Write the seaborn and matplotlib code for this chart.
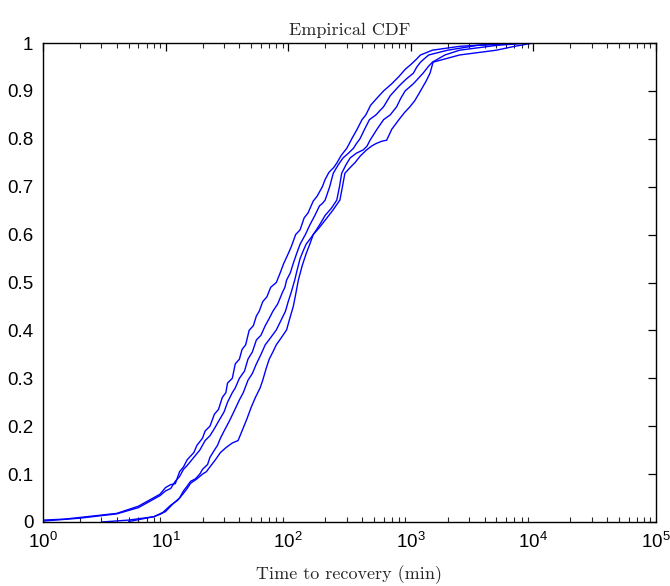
import matplotlib
matplotlib.use("Agg")
import matplotlib.pyplot as plt
import seaborn as sns
import pandas as pd
import numpy as np
from matplotlib.ticker import LogLocator, FixedLocator, FixedFormatter, NullLocator

# ---- data (time in minutes, cumulative fraction) ----
curve_a_x = [1, 1.5, 4, 6, 9, 10, 11, 12, 13, 14, 15, 17, 18, 20, 21, 23, 25, 27, 29, 31,
             32, 35, 37, 40, 42, 45, 48, 52, 55, 58, 62, 67, 72, 80, 86, 92, 100, 106, 115,
             125, 135, 145, 160, 172, 190, 200, 215, 235, 250, 270, 300, 315, 330, 365, 400,
             430, 470, 530, 600, 700, 800, 900, 1000, 1100, 1200, 1500, 2500, 5000, 8000]
curve_a_y = [0.004, 0.006, 0.018, 0.033, 0.058, 0.072, 0.078, 0.08, 0.105, 0.115, 0.13,
             0.145, 0.16, 0.175, 0.19, 0.20, 0.225, 0.235, 0.26, 0.27, 0.29, 0.30, 0.33,
             0.34, 0.36, 0.37, 0.40, 0.41, 0.43, 0.44, 0.46, 0.47, 0.49, 0.50, 0.52, 0.54,
             0.56, 0.575, 0.60, 0.61, 0.635, 0.645, 0.67, 0.68, 0.70, 0.715, 0.73, 0.74,
             0.75, 0.765, 0.78, 0.79, 0.80, 0.82, 0.84, 0.85, 0.87, 0.885, 0.90, 0.915,
             0.93, 0.945, 0.955, 0.965, 0.975, 0.985, 0.993, 0.998, 1.0]

curve_b_x = [1, 2, 4, 6, 9, 10, 11, 12, 13, 14, 15, 17, 19, 21, 23, 25, 27, 30, 32, 35, 37,
             40, 44, 47, 51, 55, 60, 65, 70, 75, 82, 90, 94, 97, 104, 110, 117, 125, 138,
             150, 165, 180, 190, 200, 218, 233, 255, 280, 310, 340, 360, 385, 420, 460, 520,
             600, 680, 800, 920, 1050, 1120, 1200, 1300, 1400, 2000, 3500, 9000]
curve_b_y = [0.002, 0.008, 0.017, 0.03, 0.055, 0.065, 0.07, 0.085, 0.095, 0.11, 0.118, 0.135,
             0.15, 0.17, 0.18, 0.195, 0.21, 0.23, 0.25, 0.27, 0.28, 0.30, 0.315, 0.34, 0.355,
             0.38, 0.39, 0.41, 0.425, 0.44, 0.455, 0.48, 0.49, 0.505, 0.52, 0.54, 0.56, 0.58,
             0.60, 0.62, 0.64, 0.66, 0.665, 0.672, 0.70, 0.728, 0.745, 0.76, 0.77, 0.78,
             0.79, 0.80, 0.82, 0.84, 0.85, 0.867, 0.89, 0.91, 0.925, 0.937, 0.95, 0.96,
             0.968, 0.975, 0.985, 0.995, 1.0]

curve_c_x = [3, 5, 8, 9, 10, 11.6, 13, 14, 15, 16, 17.5, 19, 20, 22, 23, 25, 26.5, 28, 30,
             33, 36, 40, 43, 47, 51, 55, 60, 65, 72, 80, 87, 95, 100, 106, 113, 118, 125,
             132, 140, 155, 170, 185, 200, 225, 249, 262, 273, 295, 320, 360, 410, 440, 465,
             530, 600, 680, 767, 830, 900, 1050, 1260, 1380, 1500, 1900, 2500, 5000, 9000]
curve_c_y = [0.0, 0.004, 0.011, 0.016, 0.022, 0.039, 0.05, 0.065, 0.075, 0.085, 0.09, 0.10,
             0.11, 0.12, 0.135, 0.15, 0.16, 0.175, 0.19, 0.21, 0.23, 0.255, 0.27, 0.296,
             0.31, 0.33, 0.35, 0.37, 0.385, 0.401, 0.42, 0.44, 0.46, 0.48, 0.505, 0.525,
             0.55, 0.565, 0.58, 0.595, 0.61, 0.625, 0.64, 0.655, 0.672, 0.70, 0.728, 0.745,
             0.76, 0.77, 0.777, 0.785, 0.797, 0.82, 0.84, 0.85, 0.867, 0.885, 0.90, 0.915,
             0.937, 0.95, 0.96, 0.975, 0.985, 0.995, 1.0]

curve_d_x = [5, 8, 9.5, 11, 12.5, 14, 15, 16, 18, 20, 21.5, 23, 25.5, 28, 31, 35, 39, 42,
             46, 50, 54, 59, 62, 66, 70, 75, 80, 88, 97, 103, 110, 115, 121, 130, 140, 150,
             160, 180, 200, 230, 264, 277, 290, 320, 350, 390, 437, 480, 520, 580, 635, 700,
             800, 890, 985, 1080, 1200, 1330, 1435, 1520, 2500, 5000, 7000, 10000]
curve_d_y = [0.001, 0.011, 0.02, 0.035, 0.045, 0.06, 0.07, 0.081, 0.09, 0.10, 0.105, 0.115,
             0.13, 0.145, 0.155, 0.165, 0.17, 0.19, 0.215, 0.24, 0.26, 0.28, 0.296, 0.32,
             0.34, 0.355, 0.37, 0.385, 0.401, 0.425, 0.45, 0.475, 0.505, 0.535, 0.56, 0.58,
             0.60, 0.615, 0.63, 0.65, 0.672, 0.70, 0.728, 0.74, 0.75, 0.765, 0.777, 0.785,
             0.79, 0.795, 0.797, 0.82, 0.84, 0.855, 0.867, 0.88, 0.90, 0.92, 0.937, 0.96,
             0.975, 0.985, 0.993, 1.0]

curve_names = ["A", "B", "C", "D"]
y_ticks = [0, 0.1, 0.2, 0.3, 0.4, 0.5, 0.6, 0.7, 0.8, 0.9, 1]
y_tick_labels = ["0", "0.1", "0.2", "0.3", "0.4", "0.5", "0.6", "0.7", "0.8", "0.9", "1"]
title_text = "Empirical CDF"
xlabel_text = "Time to recovery (min)"

frames = []
for name, xs, ys in zip(curve_names,
                        [curve_a_x, curve_b_x, curve_c_x, curve_d_x],
                        [curve_a_y, curve_b_y, curve_c_y, curve_d_y]):
    frames.append(pd.DataFrame({"time": xs, "F": ys, "curve": name}))
df = pd.concat(frames, ignore_index=True)

sns.set_style("white")
plt.rcParams["font.family"] = ["Liberation Sans", "DejaVu Sans"]
plt.rcParams["mathtext.fontset"] = "custom"
plt.rcParams["mathtext.rm"] = "Liberation Sans"
plt.rcParams["mathtext.it"] = "Liberation Sans:italic"
plt.rcParams["mathtext.default"] = "regular"

fig = plt.figure(figsize=(6.7, 5.86), dpi=100)
ax = fig.add_axes([43 / 670, 1 - 522 / 586, (656 - 43) / 670, (522 - 43) / 586])

sns.lineplot(data=df, x="time", y="F", hue="curve", units="curve", estimator=None,
             sort=False, palette=["#0000ff"] * 4, linewidth=1.0, legend=False, ax=ax)

ax.set_xscale("log")
ax.set_xlim(1, 1e5)
ax.set_ylim(0, 1)
ax.xaxis.set_major_locator(LogLocator(base=10, numticks=10))
ax.xaxis.set_minor_locator(LogLocator(base=10, subs=np.arange(2, 10), numticks=100))
ax.yaxis.set_major_locator(FixedLocator(y_ticks))
ax.yaxis.set_major_formatter(FixedFormatter(y_tick_labels))
ax.yaxis.set_minor_locator(NullLocator())

for s in ax.spines.values():
    s.set_visible(True)
    s.set_color("black")
    s.set_linewidth(1.0)

ax.tick_params(axis="both", which="major", direction="in", length=6, width=0.9,
               top=True, right=True, labelsize=13.5, colors="black", pad=7)
ax.tick_params(axis="x", which="minor", direction="in", length=3.5, width=0.8,
               top=True, bottom=True)

ax.set_title(title_text, fontfamily="cmr10", fontsize=13, pad=6)
ax.set_xlabel(xlabel_text, fontfamily="cmr10", fontsize=13, labelpad=10)
ax.set_ylabel("")

fig.savefig("out.png", dpi=100, facecolor="white")
